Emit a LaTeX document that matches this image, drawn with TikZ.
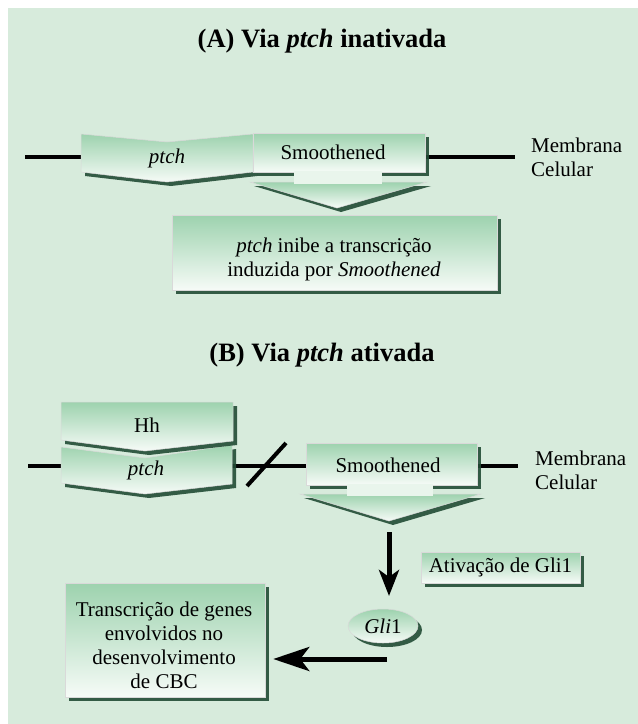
\documentclass[tikz,border=0pt]{standalone}
\usepackage{fontspec}
\setmainfont{Liberation Serif}
\usetikzlibrary{shadows,shapes.geometric,arrows.meta}

\definecolor{fundo}{HTML}{D7EBDC}
\definecolor{verde}{HTML}{9DD2AE}
\definecolor{claro}{HTML}{F6FBF7}
\definecolor{sombra}{HTML}{224C35}

\begin{document}
\begin{tikzpicture}[x=1pt,y=-1pt]
    \tikzstyle{caixa}=[
        draw = white!85!black,
        line width = .5pt,
        top color = verde,
        bottom color = claro,
        drop shadow = {shadow xshift=4pt, shadow yshift=-4pt, fill=sombra, opacity=.9}
    ]
    \tikzstyle{rotulo}=[
        font = \fontsize{21}{24}\selectfont,
        align = center,
        inner sep = 0pt
    ]
    \tikzstyle{titulo}=[font = \fontsize{26.5}{30}\selectfont\bfseries]
    \tikzstyle{membrana}=[line width = 4pt]
    \tikzstyle{seta}=[line width = 5pt, -{Stealth[length=26pt, width=20pt, inset=7pt]}]

    \useasboundingbox (0,0) rectangle (638,724);
    \fill[fundo] (8,8) rectangle (638,724);

    % (A)
    \node[titulo] (tituloA) at (322,41) {(A) Via \textit{ptch} inativada};

    \coordinate (mA1) at (25,157);
    \coordinate (mA2) at (515,157);
    \draw[membrana] (mA1) -- (mA2);

    \path[caixa] (81,134) -- (167,142) -- (253,134) -- (253,172) -- (167,182) -- (81,172) -- cycle;
    \path[caixa] (250,182) -- (427,182) -- (337,208) -- cycle;
    \path[caixa] (253,133) rectangle (425,172);
    \fill[claro!85!verde] (294,171) rectangle (382,183.5);

    \node[rotulo] (ptchA) at (167,158) {\textit{ptch}};
    \node[rotulo] (smoA) at (333,152) {Smoothened};
    \node[rotulo, align=left, anchor=west] (membA) at (531,157) {Membrana\\Celular};

    \node[caixa, minimum width=325pt, minimum height=75pt] (inibeA) at (334.5,252.5) {};
    \node[rotulo] (textoA) at (334,259) {\textit{ptch} inibe a transcrição\\induzida por \textit{Smoothened}};

    % (B)
    \node[titulo] (tituloB) at (322,355) {(B) Via \textit{ptch} ativada};

    \coordinate (mB1) at (28,466);
    \coordinate (mB2) at (518,466);
    \draw[membrana] (mB1) -- (mB2);

    \path[caixa] (61,447) -- (145,458) -- (232,445) -- (232,484) -- (145,494) -- (61,483) -- cycle;
    \path[caixa] (61,402) -- (233,402) -- (233,441) -- (145,451) -- (61,440) -- cycle;
    \path[caixa] (300,494) -- (481,494) -- (389,521) -- cycle;
    \path[caixa] (306,443) rectangle (477,485);
    \fill[claro!85!verde] (347,484) rectangle (433,495.5);

    \coordinate (corte1) at (247,486);
    \coordinate (corte2) at (286,443);
    \draw[membrana] (corte1) -- (corte2);

    \node[rotulo] (hh) at (147,425) {Hh};
    \node[rotulo] (ptchB) at (146,470) {\textit{ptch}};
    \node[rotulo] (smoB) at (388,465) {Smoothened};
    \node[rotulo, align=left, anchor=west] (membB) at (535,470) {Membrana\\Celular};

    \node[caixa, rotulo, minimum width=159pt, minimum height=31pt] (ativa) at (500.5,567.5) {Ativação de Gli1};
    \node[caixa, rotulo, ellipse, minimum width=70pt, minimum height=34pt] (gli) at (383,626) {\textit{Gli}1};

    \node[caixa, minimum width=200pt, minimum height=114pt] (transc) at (165,640) {};
    \node[rotulo] (textoB) at (164,645) {Transcrição de genes\\envolvidos no\\desenvolvimento\\de CBC};

    \coordinate (desce1) at (389,532);
    \coordinate (desce2) at (389,596);
    \draw[seta] (desce1) -- (desce2);

    \coordinate (glisai) at (387,659);
    \draw[seta, -{Stealth[length=36pt, width=24pt, inset=9pt]}, shorten >=8pt] (glisai) -- (glisai -| transc.east);

\end{tikzpicture}
\end{document}
